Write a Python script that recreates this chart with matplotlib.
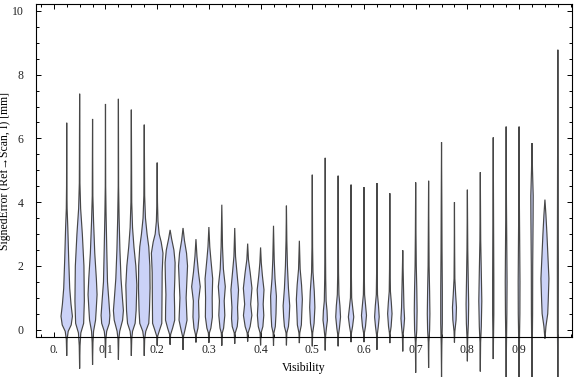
import numpy as np
import matplotlib.pyplot as plt
from matplotlib.ticker import MultipleLocator

plt.rcParams['font.family'] = ['Liberation Serif', 'DejaVu Serif']

# visibility bins (centres)
visibility = np.round(np.arange(1, 40) * 0.025, 3)

# lowest / highest signed error per bin [mm]
err_min = [-0.82, -1.22, -1.10, -0.88, -0.94, -0.82, -0.82, -0.50, -0.47, -0.63,
           -0.40, -0.41, -0.50, -0.44, -0.37, -0.49, -0.50, -0.49, -0.42, -0.52,
           -0.65, -0.52, -0.39, -0.39, -0.63, -0.42, -0.68, -1.35, -1.20, -1.50,
           -0.40, -0.99, -1.31, -0.92, -1.50, -1.50, -1.50, -0.29, -1.50]
err_max = [6.49, 7.40, 6.61, 7.08, 7.24, 6.90, 6.43, 5.24, 3.13, 3.19,
           2.84, 3.22, 3.92, 3.19, 2.70, 2.58, 3.26, 3.89, 2.79, 4.86,
           5.39, 4.83, 4.55, 4.47, 4.60, 4.28, 2.49, 4.62, 4.67, 5.88,
           4.00, 4.39, 4.94, 6.03, 6.37, 6.37, 5.85, 4.08, 8.78]

# density profile per bin: (error, relative width)
density = [
    [(-0.3, 0.4), (-0.05, 1.5), (0.15, 4.5), (0.42, 5.7), (0.8, 4.3), (1.3, 3.0), (2.2, 2.0), (3.2, 1.1), (3.8, 0.4), (4.5, 0.15)],
    [(-0.5, 0.4), (-0.1, 1.2), (0.2, 4.0), (0.9, 4.7), (2.0, 4.3), (3.0, 2.7), (3.8, 1.0), (4.6, 0.3)],
    [(-0.4, 0.4), (-0.05, 1.0), (0.3, 3.0), (0.6, 3.6), (1.1, 4.5), (1.6, 3.8), (2.4, 2.2), (3.4, 1.0), (4.2, 0.3)],
    [(-0.3, 0.4), (-0.05, 1.2), (0.2, 3.8), (0.45, 4.4), (0.9, 3.4), (1.5, 2.0), (2.5, 1.3), (3.6, 0.6), (4.5, 0.2)],
    [(-0.3, 0.4), (-0.05, 1.3), (0.3, 4.2), (0.6, 5.0), (1.0, 4.0), (1.6, 2.6), (2.5, 1.5), (3.5, 0.7), (4.5, 0.2)],
    [(-0.3, 0.4), (-0.05, 1.2), (0.2, 3.8), (0.6, 4.8), (1.4, 5.5), (2.0, 4.5), (2.6, 2.6), (3.2, 1.2), (4.0, 0.4)],
    [(-0.3, 0.4), (-0.05, 1.5), (0.2, 4.5), (0.6, 5.2), (1.3, 5.8), (2.0, 5.6), (2.6, 4.5), (3.0, 2.8), (3.5, 1.2), (4.2, 0.4)],
    [(-0.2, 0.5), (0.0, 2.5), (0.2, 4.6), (0.9, 4.8), (1.8, 5.0), (2.4, 5.8), (2.75, 4.0), (3.0, 2.0), (3.4, 0.8), (4.0, 0.3)],
    [(-0.15, 0.5), (0.05, 2.5), (0.3, 4.6), (0.7, 4.5), (1.1, 4.2), (1.6, 4.7), (2.1, 5.0), (2.5, 3.8), (2.85, 1.5)],
    [(-0.2, 0.5), (0.0, 2.0), (0.3, 4.0), (0.6, 3.6), (1.0, 3.1), (1.5, 3.8), (2.0, 4.5), (2.4, 3.5), (2.8, 1.4)],
    [(-0.15, 0.5), (0.05, 2.0), (0.4, 3.0), (0.9, 2.6), (1.35, 4.3), (1.8, 2.5), (2.3, 1.0)],
    [(-0.1, 0.5), (0.05, 2.0), (0.4, 3.5), (1.0, 3.3), (1.6, 3.8), (2.2, 2.0), (2.6, 0.9)],
    [(-0.1, 0.5), (0.05, 1.8), (0.45, 3.0), (0.9, 2.4), (1.35, 3.5), (1.9, 1.6), (2.6, 0.7)],
    [(-0.1, 0.5), (0.1, 2.5), (0.35, 3.2), (0.7, 2.8), (1.25, 3.8), (1.8, 2.2), (2.3, 0.8)],
    [(-0.1, 0.5), (0.1, 2.5), (0.45, 4.2), (0.8, 3.0), (1.3, 4.3), (1.8, 2.5), (2.2, 0.8)],
    [(-0.1, 0.5), (0.1, 2.3), (0.45, 3.2), (0.8, 2.6), (1.25, 3.4), (1.7, 1.8), (2.1, 0.7)],
    [(-0.1, 0.4), (0.1, 1.8), (0.5, 2.5), (1.05, 2.9), (1.6, 1.5), (2.2, 0.7)],
    [(-0.1, 0.4), (0.1, 2.0), (0.4, 2.8), (0.75, 3.3), (1.3, 2.0), (2.0, 1.0), (2.8, 0.4)],
    [(-0.1, 0.4), (0.15, 2.0), (0.5, 2.4), (0.95, 3.0), (1.4, 2.2), (1.9, 0.8)],
    [(-0.1, 0.4), (0.2, 1.8), (0.7, 2.6), (1.2, 2.0), (1.8, 0.7), (2.6, 0.3)],
    [(-0.2, 0.4), (0.05, 1.2), (0.3, 2.2), (0.6, 1.8), (0.9, 0.9), (1.6, 0.5), (2.5, 0.3)],
    [(-0.15, 0.4), (0.05, 1.3), (0.4, 2.4), (0.75, 1.8), (1.1, 0.8), (1.8, 0.4)],
    [(-0.1, 0.4), (0.1, 1.5), (0.4, 2.7), (0.7, 1.6), (1.0, 0.6), (1.8, 0.3)],
    [(-0.1, 0.4), (0.1, 1.5), (0.45, 2.5), (0.8, 1.5), (1.1, 0.6), (1.8, 0.3)],
    [(-0.15, 0.4), (0.1, 1.4), (0.4, 2.3), (0.75, 1.6), (1.1, 0.6), (1.8, 0.3)],
    [(-0.1, 0.4), (0.1, 1.3), (0.5, 2.2), (0.85, 1.5), (1.2, 0.6), (1.9, 0.3)],
    [(-0.15, 0.4), (0.1, 1.2), (0.35, 1.8), (0.7, 1.2), (1.4, 0.7), (2.0, 0.3)],
    [(-0.4, 0.3), (0.0, 1.1), (0.6, 1.4), (1.3, 1.1), (2.0, 0.6), (3.0, 0.3)],
    [(-0.4, 0.3), (0.0, 1.0), (0.5, 1.3), (1.2, 1.0), (2.0, 0.5), (3.0, 0.3)],
    [(-0.5, 0.3), (0.2, 0.8), (1.2, 0.8), (2.5, 0.5), (4.0, 0.3)],
    [(-0.05, 0.4), (0.3, 1.6), (0.7, 2.0), (1.1, 1.2), (1.6, 0.4), (2.5, 0.2)],
    [(-0.3, 0.3), (0.2, 1.0), (0.8, 1.3), (1.5, 0.9), (2.5, 0.4)],
    [(-0.4, 0.3), (0.1, 1.0), (0.9, 1.5), (1.8, 1.0), (2.8, 0.4)],
    [(-0.2, 0.3), (0.5, 0.6), (1.5, 0.6), (3.0, 0.4)],
    [(-0.5, 0.3), (0.5, 0.7), (1.5, 0.9), (2.8, 0.6), (4.0, 0.3)],
    [(-0.5, 0.3), (0.5, 0.8), (1.5, 0.9), (2.8, 0.6), (4.0, 0.3)],
    [(-0.5, 0.3), (0.5, 0.6), (2.0, 0.7), (3.5, 1.1), (4.2, 1.2), (5.0, 0.5)],
    [(0.1, 1.0), (0.5, 2.8), (0.9, 3.3), (1.6, 4.0), (2.3, 3.0), (3.0, 2.0), (3.6, 1.0)],
    [(0.0, 0.4), (2.0, 0.5), (5.0, 0.3)],
]

fig = plt.figure(figsize=(5.76, 3.77), dpi=100)
ax = fig.add_axes([0.0625, 0.106, 0.9305, 0.883])

scale = 1 / 517.0  # relative width -> x units
for x, lo, hi, knots in zip(visibility, err_min, err_max, density):
    ys = np.array([lo] + [k[0] for k in knots] + [hi])
    ws = np.array([0] + [k[1] for k in knots] + [0]) * scale
    ax.fill(np.r_[x + ws, (x - ws)[::-1]], np.r_[ys, ys[::-1]],
            facecolor='#cbd2f7', edgecolor='#474747', lw=0.85,
            clip_on=False, zorder=2)

ax.set_xlim(-0.0344, 1.0023)
ax.set_ylim(-0.23, 10.21)

ax.xaxis.set_minor_locator(MultipleLocator(0.025))
ax.yaxis.set_major_locator(MultipleLocator(2))
ax.yaxis.set_minor_locator(MultipleLocator(0.5))
ax.set_xticks(np.arange(0, 1.0, 0.1))
ax.set_xticklabels(['0.'] + ['%.1f' % v for v in np.arange(0.1, 0.95, 0.1)])

ax.tick_params(which='both', direction='in', top=True, right=True,
               color='black', width=0.7, labelsize=8.5, labelcolor='#222222')
ax.tick_params(which='major', length=3.5)
ax.tick_params(which='minor', length=2.2)
ax.tick_params(axis='y', pad=9)
ax.tick_params(axis='x', pad=5)

for s in ax.spines.values():
    s.set_linewidth(0.8)
    s.set_zorder(3)

ax.set_xlabel('Visibility', fontsize=8.5, labelpad=4)
ax.set_ylabel('SignedError (Ref\u2192Scan, I) [mm]', fontsize=8.5)
ax.yaxis.set_label_coords(-0.046, 0.5)

fig.savefig('out.png', dpi=100)
